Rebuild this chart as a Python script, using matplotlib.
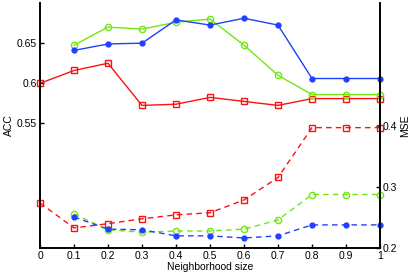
import matplotlib
matplotlib.use("Agg")
from matplotlib import pyplot as plt

plt.rcParams['font.family'] = ['Liberation Sans', 'DejaVu Sans']

sizes = [0, 0.1, 0.2, 0.3, 0.4, 0.5, 0.6, 0.7, 0.8, 0.9, 1.0]
sizes_nz = sizes[1:]

# ACC (left axis)
acc_red = [0.600, 0.616, 0.625, 0.5725, 0.574, 0.5825, 0.5775, 0.5725, 0.581, 0.581, 0.581]
acc_green = [0.6475, 0.670, 0.6675, 0.676, 0.680, 0.6475, 0.610, 0.586, 0.586, 0.586]
acc_blue = [0.641, 0.649, 0.650, 0.679, 0.6725, 0.681, 0.6725, 0.606, 0.606, 0.606]

# MSE (right axis)
mse_red = [0.274, 0.233, 0.240, 0.248, 0.2545, 0.258, 0.279, 0.316, 0.398, 0.398, 0.398]
mse_green = [0.256, 0.230, 0.226, 0.228, 0.228, 0.231, 0.246, 0.288, 0.288, 0.288]
mse_blue = [0.251, 0.231, 0.230, 0.220, 0.220, 0.2165, 0.220, 0.238, 0.238, 0.238]

RED = "#ff1010"
GREEN = "#70e810"
BLUE = "#2040ff"
FS = 7.5

fig = plt.figure(figsize=(4.15, 2.77), dpi=100)
ax1 = fig.add_axes([40/415, 29/277, 340/415, 245/277])
ax2 = ax1.twinx()

ax1.plot(sizes, acc_red, color=RED, lw=1, marker='s', ms=4, mfc='none', mew=1, clip_on=False)
ax1.plot(sizes_nz, acc_green, color=GREEN, lw=1, marker='o', ms=4.5, mfc='none', mew=1, clip_on=False)
ax1.plot(sizes_nz, acc_blue, color=BLUE, lw=1, marker='o', ms=3.5, mfc=BLUE, mew=1, clip_on=False)

ax2.plot(sizes, mse_red, color=RED, lw=1, ls=(0, (4, 3)), marker='s', ms=4, mfc='none', mew=1, clip_on=False)
ax2.plot(sizes_nz, mse_green, color=GREEN, lw=1, ls=(0, (4, 3)), marker='o', ms=4.5, mfc='none', mew=1, clip_on=False)
ax2.plot(sizes_nz, mse_blue, color=BLUE, lw=1, ls=(0, (4, 3)), marker='o', ms=3.5, mfc=BLUE, mew=1, clip_on=False)

ax1.set_xlim(0, 1)
ax1.set_ylim(0.395, 0.7)
ax2.set_ylim(0.2, 0.603)

ax1.set_xticks(sizes)
ax1.set_xticklabels(["0", "0.1", "0.2", "0.3", "0.4", "0.5", "0.6", "0.7", "0.8", "0.9", "1"])
ax1.set_yticks([0.55, 0.6, 0.65])
ax1.set_yticklabels(["0.55", "0.6", "0.65"])
ax2.set_yticks([0.2, 0.3, 0.4])
ax2.set_yticklabels(["0.2", "0.3", "0.4"])

for ax in (ax1, ax2):
    ax.spines['top'].set_visible(False)
    for s in ax.spines.values():
        s.set_linewidth(1.2)
    ax.tick_params(direction='in', length=3, width=1, labelsize=FS, pad=2)

ax1.set_xlabel("Neighborhood size", fontsize=FS, labelpad=1)
ax1.set_ylabel("ACC", fontsize=FS, labelpad=2)
ax2.set_ylabel("MSE", fontsize=FS, labelpad=2)

fig.savefig("out.png", dpi=100)
